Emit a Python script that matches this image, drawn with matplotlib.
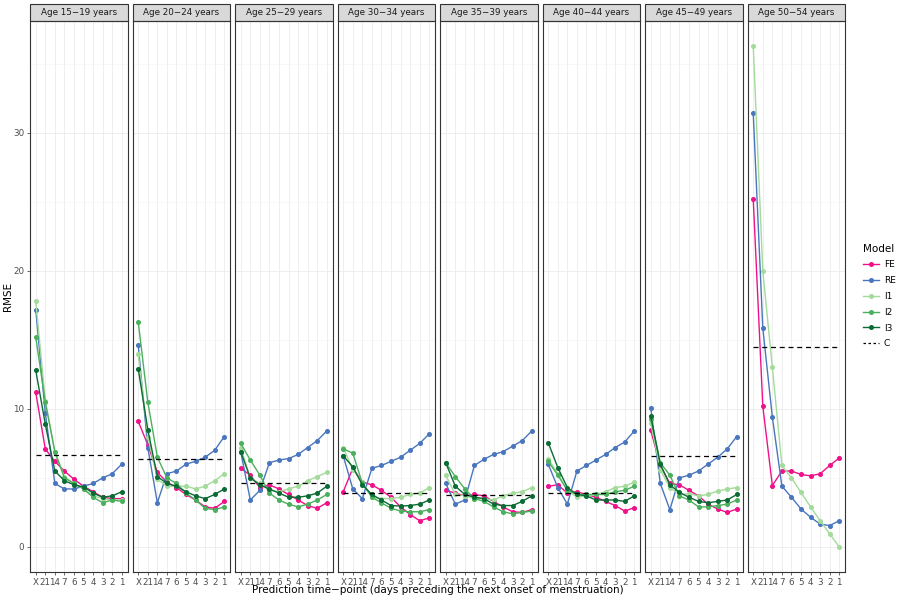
import numpy as np
import matplotlib
matplotlib.use("Agg")
import matplotlib.pyplot as plt
from matplotlib.patches import Rectangle
from matplotlib.lines import Line2D

ages = ["Age 15\u221219 years", "Age 20\u221224 years", "Age 25\u221229 years", "Age 30\u221234 years",
        "Age 35\u221239 years", "Age 40\u221244 years", "Age 45\u221249 years", "Age 50\u221254 years"]
timepoints = ["X", "21", "14", "7", "6", "5", "4", "3", "2", "1"]

FE = [
    [11.2, 7.1, 6.2, 5.5, 4.9, 4.4, 4.0, 3.6, 3.5, 3.5],
    [9.1, 7.4, 5.4, 4.7, 4.3, 3.8, 3.4, 2.9, 2.8, 3.3],
    [5.7, 5.2, 4.3, 4.5, 4.2, 3.8, 3.4, 3.0, 2.8, 3.2],
    [4.0, 5.7, 4.7, 4.5, 4.1, 3.6, 2.9, 2.35, 1.9, 2.1],
    [4.1, 3.9, 3.7, 3.8, 3.7, 3.3, 2.9, 2.55, 2.5, 2.7],
    [4.4, 4.5, 3.9, 4.0, 3.8, 3.6, 3.3, 3.0, 2.6, 2.85],
    [8.45, 5.9, 4.6, 4.5, 4.1, 3.7, 3.1, 2.75, 2.5, 2.75],
    [25.2, 10.2, 4.45, 5.5, 5.5, 5.25, 5.15, 5.3, 5.9, 6.45],
]
RE = [
    [17.2, 9.7, 4.6, 4.2, 4.2, 4.4, 4.6, 5.0, 5.3, 6.0],
    [14.6, 7.2, 3.2, 5.3, 5.5, 6.0, 6.2, 6.5, 7.0, 8.0],
    [6.9, 3.4, 4.1, 6.1, 6.3, 6.4, 6.7, 7.2, 7.7, 8.4],
    [6.6, 4.2, 3.5, 5.7, 5.9, 6.2, 6.5, 7.0, 7.5, 8.2],
    [4.6, 3.1, 3.4, 5.9, 6.35, 6.7, 6.9, 7.3, 7.7, 8.4],
    [6.0, 4.3, 3.1, 5.5, 5.9, 6.3, 6.7, 7.2, 7.6, 8.4],
    [10.1, 4.6, 2.7, 5.0, 5.2, 5.5, 6.0, 6.5, 7.1, 8.0],
    [31.4, 15.85, 9.4, 4.4, 3.6, 2.75, 2.15, 1.65, 1.55, 1.9],
]
I1 = [
    [17.8, 10.6, 6.9, 5.1, 4.6, 4.2, 3.7, 3.5, 3.4, 3.4],
    [14.0, 8.0, 4.9, 4.4, 4.4, 4.4, 4.2, 4.4, 4.8, 5.3],
    [7.2, 5.0, 4.6, 4.1, 4.0, 4.2, 4.4, 4.8, 5.1, 5.4],
    [7.2, 5.6, 4.7, 3.6, 3.5, 3.5, 3.6, 3.8, 3.9, 4.3],
    [5.2, 3.8, 3.7, 3.5, 3.5, 3.4, 3.7, 3.9, 4.0, 4.3],
    [6.4, 5.3, 4.1, 3.6, 3.7, 3.8, 4.0, 4.3, 4.4, 4.7],
    [9.0, 5.6, 4.3, 3.8, 3.85, 3.7, 3.8, 4.05, 4.2, 4.3],
    [36.3, 20.0, 13.0, 5.9, 5.0, 3.95, 2.9, 1.9, 0.95, 0.0],
]
I2 = [
    [15.2, 10.5, 6.9, 5.0, 4.6, 4.2, 3.6, 3.2, 3.4, 3.3],
    [16.3, 10.5, 6.5, 5.0, 4.6, 3.9, 3.4, 2.8, 2.7, 2.9],
    [7.5, 6.3, 5.2, 3.9, 3.4, 3.1, 2.9, 3.1, 3.4, 3.8],
    [7.1, 6.8, 4.6, 3.6, 3.2, 2.8, 2.6, 2.55, 2.55, 2.7],
    [6.1, 5.1, 4.2, 3.5, 3.3, 2.9, 2.55, 2.4, 2.5, 2.6],
    [6.2, 5.2, 4.1, 3.8, 3.8, 3.8, 3.8, 4.0, 4.1, 4.4],
    [9.3, 6.1, 5.2, 3.7, 3.4, 2.9, 2.9, 3.0, 3.1, 3.4],
    [np.nan] * 10,
]
I3 = [
    [12.8, 8.9, 5.5, 4.8, 4.5, 4.35, 3.9, 3.6, 3.7, 4.0],
    [12.9, 8.5, 5.1, 4.6, 4.4, 4.0, 3.7, 3.5, 3.8, 4.2],
    [6.9, 5.0, 4.5, 4.2, 3.9, 3.6, 3.6, 3.7, 3.9, 4.4],
    [6.6, 5.8, 4.5, 3.8, 3.4, 3.0, 2.96, 3.0, 3.1, 3.4],
    [6.1, 4.4, 3.8, 3.6, 3.5, 3.1, 3.0, 3.0, 3.3, 3.7],
    [7.55, 5.75, 4.3, 3.8, 3.7, 3.4, 3.4, 3.4, 3.3, 3.7],
    [9.5, 6.0, 4.5, 3.95, 3.6, 3.3, 3.2, 3.3, 3.4, 3.8],
    [np.nan] * 10,
]
C = [6.66, 6.4, 4.6, 3.9, 3.75, 3.9, 6.6, 14.45]

models = ["FE", "RE", "I1", "I2", "I3"]
series = {"FE": FE, "RE": RE, "I1": I1, "I2": I2, "I3": I3}
colors = {"FE": "#F0118A", "RE": "#4A76BE", "I1": "#A3DB9B", "I2": "#4BB05E", "I3": "#0B6B35"}

fig = plt.figure(figsize=(9, 6), dpi=100)
W, H = 900, 600
left_px, right_px, top_px, bot_px = 30, 845, 21, 572
gap = 5
n = len(ages)
pw = (right_px - left_px - gap * (n - 1)) / n
strip_h = 17

x = np.arange(1, len(timepoints) + 1)
axes = []
for i, age in enumerate(ages):
    x0 = left_px + i * (pw + gap)
    ax = fig.add_axes([x0 / W, 1 - bot_px / H, pw / W, (bot_px - top_px) / H])
    axes.append(ax)
    ax.set_facecolor("white")
    ax.set_xlim(0.4, 10.6)
    ax.set_ylim(-1.815, 38.1)
    ax.set_yticks([0, 10, 20, 30])
    ax.set_yticks([5, 15, 25, 35], minor=True)
    ax.set_xticks(x)
    ax.set_xticklabels(timepoints)
    ax.grid(True, which="major", color="#EBEBEB", lw=0.6, zorder=0)
    ax.grid(True, which="minor", axis="y", color="#F4F4F4", lw=0.4, zorder=0)
    ax.set_axisbelow(True)
    ax.tick_params(axis="both", which="major", labelsize=6.3, colors="#333333",
                   labelcolor="#4D4D4D", length=2.5, width=0.5, pad=1.5)
    ax.tick_params(axis="both", which="minor", length=0)
    ax.tick_params(axis="x", labelsize=6.3, pad=1.5)
    if i > 0:
        ax.tick_params(axis="y", which="major", labelleft=False, length=0)
    for sp in ax.spines.values():
        sp.set_color("#333333")
        sp.set_linewidth(0.8)
    for m in models:
        y = np.array(series[m][i], dtype=float)
        ax.plot(x, y, color=colors[m], lw=1.0, marker="o", ms=2.6, zorder=3)
    ax.plot([1, 10], [C[i], C[i]], color="black", lw=0.9, ls=(0, (4, 3)), zorder=4)
    # strip
    sh = strip_h / (bot_px - top_px)
    rect = Rectangle((0, 1), 1, sh, transform=ax.transAxes, facecolor="#D9D9D9",
                     edgecolor="#333333", lw=0.8, clip_on=False)
    ax.add_patch(rect)
    ax.text(0.5, 1 + sh / 2, age, transform=ax.transAxes, ha="center", va="center",
            fontsize=6.3, color="#1A1A1A")

fig.text(8 / W, 1 - 296 / H, "RMSE", rotation=90, ha="center", va="center", fontsize=7.5, color="black")
fig.text((left_px + right_px) / 2 / W, 1 - 590 / H,
         "Prediction time\u2212point (days preceding the next onset of menstruation)",
         ha="center", va="center", fontsize=7.5, color="black")

handles = [Line2D([0], [0], color=colors[m], lw=1.0, marker="o", ms=2.6) for m in models]
handles.append(Line2D([0], [0], color="black", lw=0.9, ls=(0, (2, 2))))
leg = fig.legend(handles, models + ["C"], title="Model", loc="center left",
                 bbox_to_anchor=(855 / W, 1 - 296 / H), frameon=False, fontsize=6.5,
                 title_fontsize=7.5, handlelength=1.8, handletextpad=0.5, labelspacing=0.75)
leg._legend_box.align = "left"

fig.savefig("out.png", dpi=100)
